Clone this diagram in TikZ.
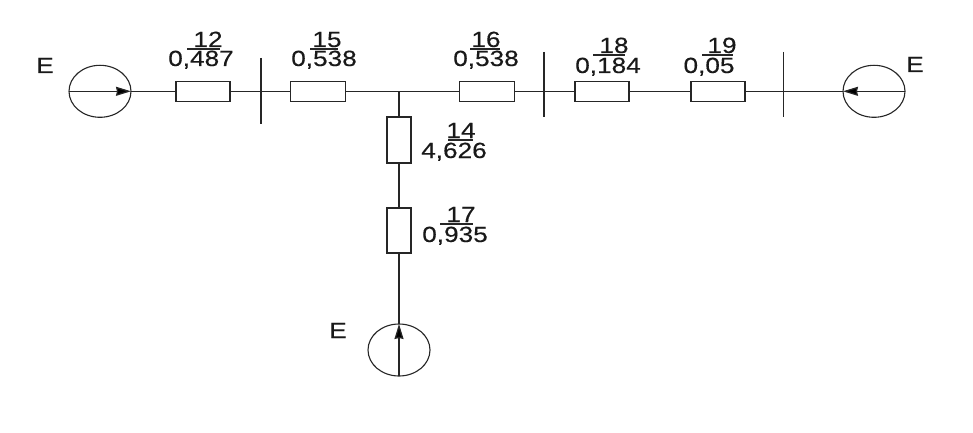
\documentclass[tikz,border=0pt]{standalone}
\usepackage{fontspec}
\setmainfont{Liberation Sans}
\newfontfamily\labelfont[FakeBold=0.25]{Liberation Sans}
\usetikzlibrary{arrows.meta,shapes.geometric}
\tikzset{
  x=1pt,y=-1pt,
  wire/.style={draw=black!85,line width=1.25pt},
  hres/.style={draw=black!85,line width=1.25pt,fill=white,rectangle,minimum width=54pt,minimum height=20pt,inner sep=0pt},
  vres/.style={draw=black!85,line width=1.25pt,fill=white,rectangle,minimum width=24pt,minimum height=46pt,inner sep=0pt},
  srcbox/.style={draw=black!85,line width=1.1pt,ellipse,minimum width=62pt,minimum height=52pt,inner sep=0pt},
  txt/.style={anchor=base,inner sep=0pt,text=black!90,font=\labelfont\fontsize{22}{22}\selectfont,xscale=1.19,transform shape},
  arrowed/.style={draw=black!85,line width=1.25pt,-{Stealth[length=15pt,width=9pt,inset=1pt,fill=black]}}
}
% #1 name, #2 top x, #3 top baseline, #4 top text, #5 bottom x, #6 bottom baseline, #7 bottom text, #8 bar left, #9 bar right; bar y from \bary
\newcommand{\fraclabel}[9]{%
  \node[txt] (#1t) at (#2,#3) {#4};
  \node[txt] (#1b) at (#5,#6) {#7};
  \coordinate (#1l) at (#8,\bary);
  \coordinate (#1r) at (#9,\bary);
  \draw[wire] (#1l) -- (#1r);
}
\begin{document}
\begin{tikzpicture}
\useasboundingbox (0,0) rectangle (973,433);
\fill[white] (0,0) rectangle (973,433);

\node[srcbox] (sl) at (100,91.3) {};
\node[srcbox] (sr) at (874,91.3) {};
\node[srcbox] (sb) at (399,350) {};
\coordinate (slw) at (69,91.3);
\coordinate (sre) at (905,91.3);
\coordinate (sbs) at (399,376);
\coordinate (sltip) at (131,91.3);
\coordinate (srtip) at (843,91.3);
\coordinate (sbtip) at (399,324);
\coordinate (j) at (399,91.3);

\node[hres] (r12) at (203,91.3) {};
\node[hres,minimum width=55pt] (r15) at (318,91.3) {};
\node[hres,minimum width=55pt] (r16) at (487,91.3) {};
\node[hres] (r18) at (602,91.3) {};
\node[hres] (r19) at (718,91.3) {};
\node[vres] (r14) at (399,140) {};
\node[vres,minimum height=45pt] (r17) at (399,230.5) {};

\draw[wire] (sltip) -- (r12.west);
\draw[wire] (r12.east) -- (r15.west);
\draw[wire] (r15.east) -- (r16.west);
\draw[wire] (r16.east) -- (r18.west);
\draw[wire] (r18.east) -- (r19.west);
\draw[wire] (r19.east) -- (srtip);
\draw[wire] (j) -- (r14.north);
\draw[wire] (r14.south) -- (r17.north);
\draw[wire] (r17.south) -- (sbtip);

\draw[arrowed] (slw) -- (sltip);
\draw[arrowed] (sre) -- (srtip);
\draw[arrowed] (sbs) -- (sbtip);

\coordinate (b1t) at (261,58); \coordinate (b1b) at (261,124);
\coordinate (b2t) at (544,52); \coordinate (b2b) at (544,117);
\coordinate (b3t) at (783.5,52); \coordinate (b3b) at (783.5,117);
\draw[wire] (b1t) -- (b1b);
\draw[wire] (b2t) -- (b2b);
\draw[wire] (b3t) -- (b3b);

\def\bary{49}
\fraclabel{a}{208}{47}{12}{201}{66}{0,487}{187}{220}
\fraclabel{c}{327}{47}{15}{324}{66}{0,538}{310}{338}
\fraclabel{d}{486}{47}{16}{486}{66}{0,538}{470}{500}
\def\bary{55}
\fraclabel{e}{614}{53}{18}{608}{73}{0,184}{593}{625}
\fraclabel{f}{722}{53}{19}{709}{73}{0,05}{702}{733}
\def\bary{140}
\fraclabel{g}{461}{138}{14}{454}{158}{4,626}{448}{473}
\def\bary{224}
\fraclabel{h}{461}{222}{17}{455}{242}{0,935}{440}{473}

\node[txt] (el) at (45,73) {E};
\node[txt] (er) at (915,72) {E};
\node[txt] (eb) at (338,338) {E};
\end{tikzpicture}
\end{document}
